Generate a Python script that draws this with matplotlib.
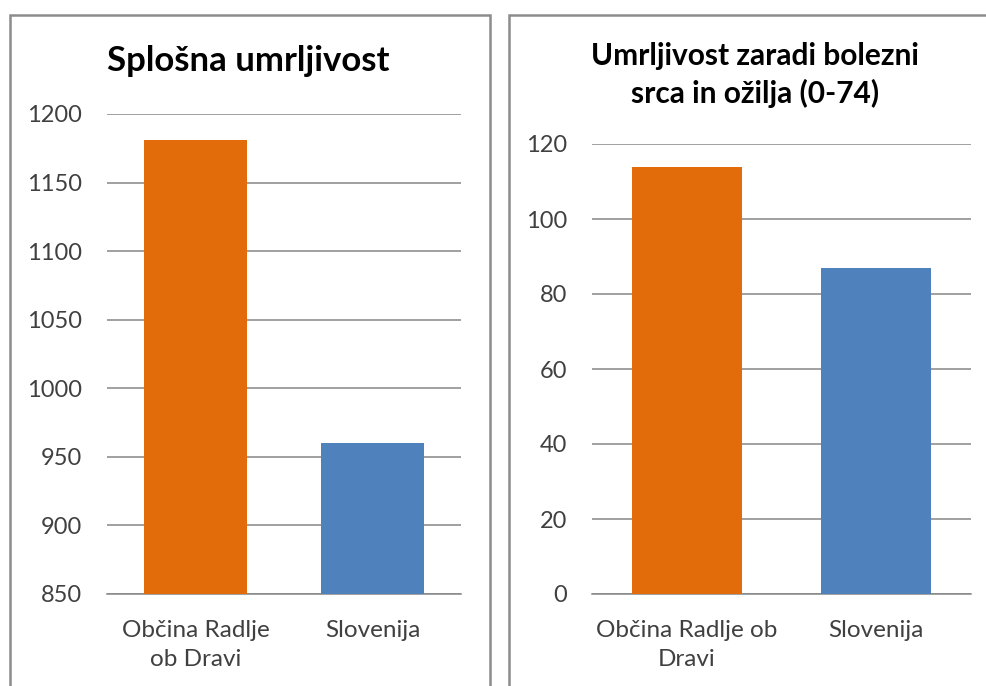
import matplotlib.pyplot as plt
from matplotlib.patches import Rectangle

# data
cats_left = ['Občina Radlje\nob Dravi', 'Slovenija']
vals_left = [1181, 960]
cats_right = ['Občina Radlje ob\nDravi', 'Slovenija']
vals_right = [114, 87]
bar_colors = ['#E36C0A', '#4F81BD']

plt.rcParams['font.family'] = ['Lato', 'DejaVu Sans']

W, H = 987, 686
fig = plt.figure(figsize=(W / 100, H / 100), dpi=100)


def px_axes(x0, x1, ytop, ybot):
    return fig.add_axes([x0 / W, 1 - ybot / H, (x1 - x0) / W, (ybot - ytop) / H])


def style(ax, cats, vals, ylim, step):
    x = range(len(cats))
    ax.bar(x, vals, width=0.58, color=bar_colors, zorder=3)
    ax.set_xlim(-0.5, len(cats) - 0.5)
    ax.set_ylim(*ylim)
    ax.set_yticks(range(ylim[0], ylim[1] + 1, step))
    ax.set_xticks(list(x))
    ax.set_xticklabels(cats, fontsize=17.5, color='#404040', linespacing=1.45)
    ax.tick_params(axis='y', length=0, pad=18, labelsize=17, labelcolor='#404040')
    ax.tick_params(axis='x', length=0, pad=19)
    ax.grid(axis='y', color='#868686', linewidth=1.1, zorder=0)
    for s in ['top', 'right', 'left']:
        ax.spines[s].set_visible(False)
    ax.spines['bottom'].set_color('#868686')
    ax.spines['bottom'].set_linewidth(1.1)


# panel borders
for x0, x1 in [(10, 490), (509, 1000)]:
    fig.add_artist(Rectangle((x0 / W, -0.05), (x1 - x0) / W, 1.05 - 15 / H,
                             transform=fig.transFigure, fill=False,
                             edgecolor='#8c8c8c', linewidth=1.8, clip_on=False))

ax1 = px_axes(107, 461, 114, 594)
style(ax1, cats_left, vals_left, (850, 1200), 50)

ax2 = px_axes(592, 971, 144, 594)
style(ax2, cats_right, vals_right, (0, 120), 20)

fig.text(248 / W, 1 - 61 / H, 'Splošna umrljivost', ha='center', va='center',
         fontsize=25, fontweight='bold', color='#000000')
fig.text(755 / W, 1 - 75 / H, 'Umrljivost zaradi bolezni\nsrca in ožilja (0-74)',
         ha='center', va='center', fontsize=21.5, fontweight='bold', color='#000000',
         linespacing=1.38)

fig.savefig('out.png', dpi=100)
